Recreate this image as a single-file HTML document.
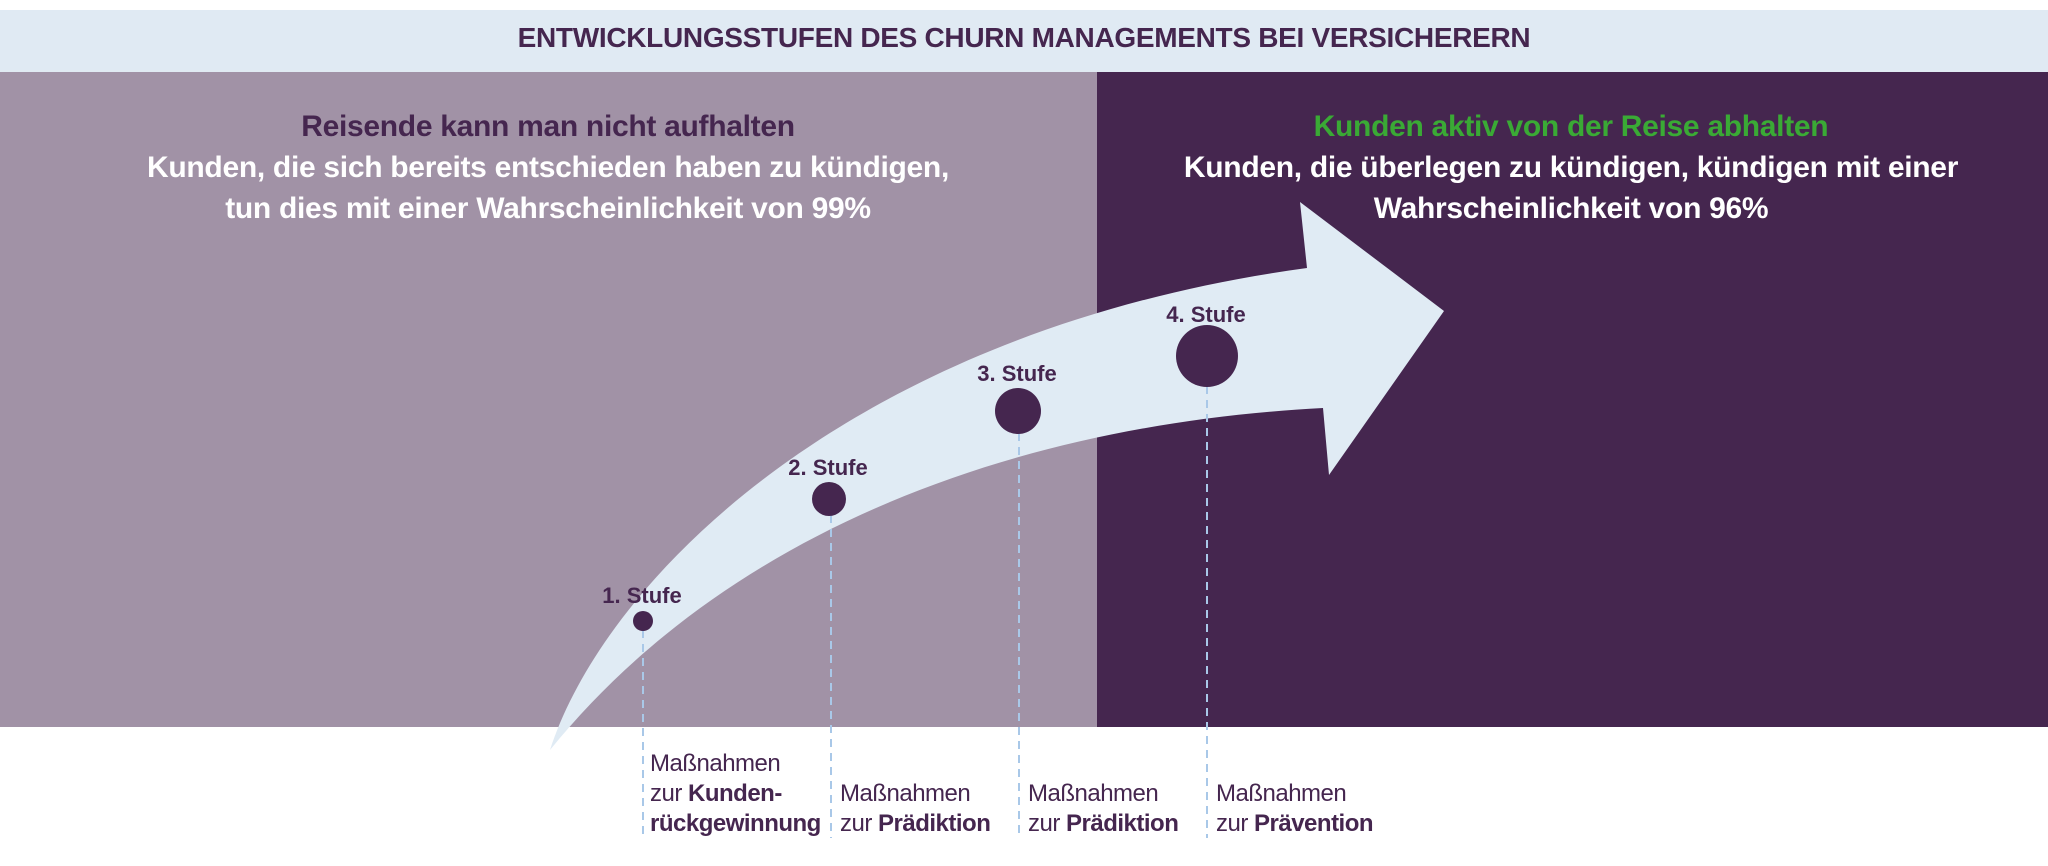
<!DOCTYPE html>
<html><head><meta charset="utf-8"><style>
body{margin:0;width:2048px;height:866px;background:#fff;overflow:hidden;position:relative;font-family:"Liberation Sans",sans-serif}
.t{position:absolute;white-space:nowrap}
</style></head><body>
<div style="position:absolute;left:0;top:10px;width:2048px;height:62px;background:#e0eaf3"></div>
<div class="t" style="left:0;width:2048px;top:22px;text-align:center;font-size:28px;font-weight:bold;color:#45264f;letter-spacing:-0.3px">ENTWICKLUNGSSTUFEN DES CHURN MANAGEMENTS BEI VERSICHERERN</div>
<div style="position:absolute;left:0;top:72px;width:1097px;height:655px;background:#a192a6"></div>
<div style="position:absolute;left:1097px;top:72px;width:951px;height:655px;background:#45264f"></div>
<div class="t" style="left:48px;width:1000px;top:106px;text-align:center;font-size:30px;font-weight:bold;line-height:41px;color:#fff;letter-spacing:-0.3px"><span style="color:#45264f">Reisende kann man nicht aufhalten</span><br>Kunden, die sich bereits entschieden haben zu kündigen,<br>tun dies mit einer Wahrscheinlichkeit von 99%</div>
<div class="t" style="left:1071px;width:1000px;top:106px;text-align:center;font-size:30px;font-weight:bold;line-height:41px;color:#fff;letter-spacing:-0.3px"><span style="color:#3aaa35">Kunden aktiv von der Reise abhalten</span><br>Kunden, die überlegen zu kündigen, kündigen mit einer<br>Wahrscheinlichkeit von 96%</div>
<svg width="2048" height="866" style="position:absolute;left:0;top:0">
<path d="M550,750 C605,580 850,330 1307,268 L1300,202 L1444,311 L1329,475 L1323,408 C1000,425 720,540 550,750 Z" fill="#e0ebf4"/>
<g stroke="#a9c8e8" stroke-width="2" stroke-dasharray="8,6">
<line x1="643" y1="630" x2="643" y2="838"/><line x1="831" y1="515" x2="831" y2="838"/><line x1="1019" y1="433" x2="1019" y2="838"/><line x1="1207" y1="386" x2="1207" y2="838"/>
</g>
<g fill="#45264f"><circle cx="643" cy="621" r="10"/><circle cx="829" cy="499" r="17"/><circle cx="1018" cy="411" r="23"/><circle cx="1207" cy="356" r="31"/></g>
<g fill="#45264f" font-size="22" font-weight="bold" font-family="Liberation Sans,sans-serif" text-anchor="middle">
<text x="642" y="603">1. Stufe</text><text x="828" y="475">2. Stufe</text><text x="1017" y="381">3. Stufe</text><text x="1206" y="322">4. Stufe</text></g>
</svg>
<div class="t" style="left:650px;top:749px;font-size:24px;line-height:30px;color:#45264f;letter-spacing:-0.5px">Maßnahmen<br>zur <b>Kunden-</b><br><b>rückgewinnung</b></div>
<div class="t" style="left:840px;top:779px;font-size:24px;line-height:30px;color:#45264f;letter-spacing:-0.5px">Maßnahmen<br>zur <b>Prädiktion</b></div>
<div class="t" style="left:1028px;top:779px;font-size:24px;line-height:30px;color:#45264f;letter-spacing:-0.5px">Maßnahmen<br>zur <b>Prädiktion</b></div>
<div class="t" style="left:1216px;top:779px;font-size:24px;line-height:30px;color:#45264f;letter-spacing:-0.5px">Maßnahmen<br>zur <b>Prävention</b></div>
</body></html>
